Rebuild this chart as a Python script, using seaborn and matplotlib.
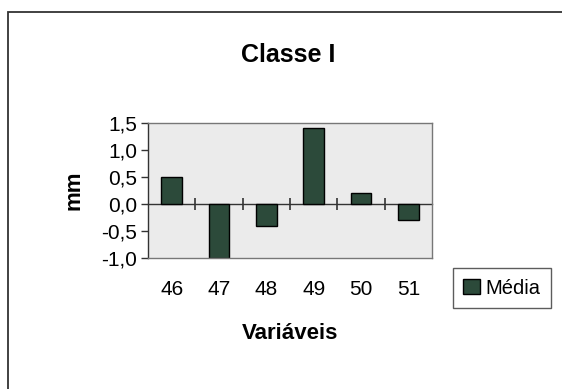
import matplotlib
matplotlib.use("Agg")
import matplotlib.pyplot as plt
import seaborn as sns
import pandas as pd
from matplotlib.patches import Rectangle

categories = ["46", "47", "48", "49", "50", "51"]
media = [0.5, -1.0, -0.4, 1.4, 0.2, -0.3]
yticks = [-1.0, -0.5, 0.0, 0.5, 1.0, 1.5]
ytick_labels = ["-1,0", "-0,5", "0,0", "0,5", "1,0", "1,5"]

sns.set_theme(style="white")
plt.rcParams['font.family'] = ['Liberation Sans', 'DejaVu Sans']
plt.rcParams['text.color'] = 'black'
plt.rcParams['xtick.color'] = 'black'
plt.rcParams['ytick.color'] = 'black'
plt.rcParams['axes.labelcolor'] = 'black'

df = pd.DataFrame({"Variáveis": categories, "Média": media})

fig = plt.figure(figsize=(5.62, 3.89), dpi=100)
ax = fig.add_axes([148/562, 1-258/389, (432-148)/562, (258-123)/389])
ax.set_facecolor("#ebebeb")

sns.barplot(data=df, x="Variáveis", y="Média", order=categories, color="#2c4a3a",
            saturation=1, width=0.43, edgecolor="black", linewidth=1.0, ax=ax, label="Média")

ax.set_ylim(-1.0, 1.5)
ax.set_xlim(-0.5, len(categories) - 0.5)
ax.set_yticks(yticks)
ax.set_yticklabels(ytick_labels, fontsize=15)
ax.tick_params(axis='y', direction='out', length=5, width=1, color='#333333', left=True, pad=3)
ax.tick_params(axis='x', length=0, labelsize=15, pad=16)
for s in ax.spines.values():
    s.set_color('#777777')
    s.set_linewidth(1.0)
ax.spines['left'].set_color('#333333')

# category axis at zero with boundary tick marks
sec = ax.secondary_xaxis(0, transform=ax.transData)
sec.set_xticks([i + 0.5 for i in range(len(categories) - 1)])
sec.set_xticklabels([])
sec.tick_params(direction='inout', length=9, width=1.2, color='#333333')
sec.spines['bottom'].set_color('#333333')
sec.spines['bottom'].set_linewidth(1.0)

ax.set_xlabel("Variáveis", fontsize=16, fontweight='bold', labelpad=17)
ax.set_ylabel("mm", fontsize=16, fontweight='bold', labelpad=12)
fig.text(288/562, 1-55/389, "Classe I", fontsize=18, fontweight='bold', ha='center', va='center')

handles, labels = ax.get_legend_handles_labels()
if ax.get_legend() is not None:
    ax.get_legend().remove()
leg = fig.legend(handles[:1], ["Média"], loc='center', bbox_to_anchor=(502/562, 1-288/389),
                 fontsize=14.5, frameon=True, fancybox=False, handlelength=0.8, handleheight=0.8,
                 handletextpad=0.3, borderpad=0.5, borderaxespad=0)
leg.get_frame().set_edgecolor('#333333')
leg.get_frame().set_linewidth(1.0)

fig.patches.append(Rectangle((8/562, -0.1), 1.2, 1 - 12/389 + 0.1, transform=fig.transFigure,
                             fill=False, edgecolor='#333333', linewidth=1.3))

fig.savefig("out.png", dpi=100, facecolor='white')
